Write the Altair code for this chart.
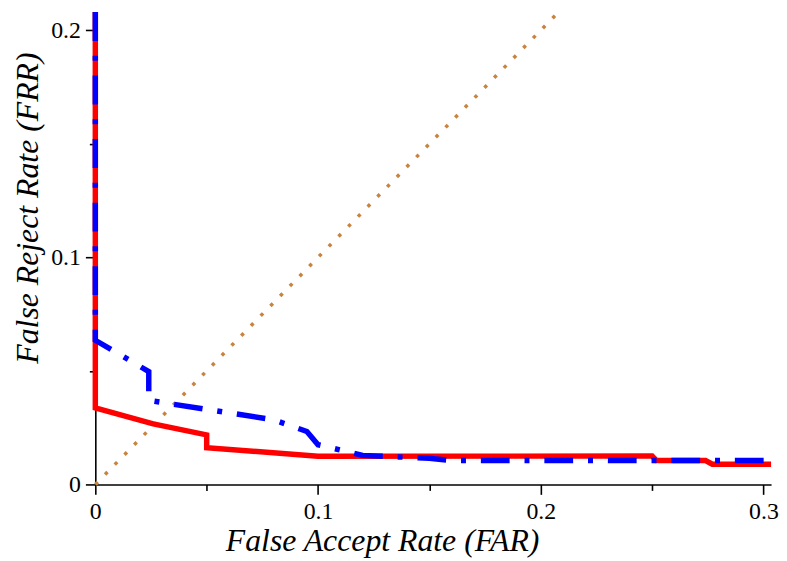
import altair as alt
import pandas as pd

# ---- data ----
red_far = [0.0, 0.0, 0.026, 0.05, 0.05, 0.1, 0.25, 0.252, 0.274, 0.277, 0.3034]
red_frr = [0.208, 0.0337, 0.0267, 0.0218, 0.0162, 0.0124, 0.0125, 0.0105, 0.0105, 0.0089, 0.0089]

blue_far = [0.0, 0.0, 0.024, 0.024, 0.08, 0.095, 0.1, 0.12, 0.15, 0.16, 0.3034]
blue_frr = [0.208, 0.0635, 0.0497, 0.037, 0.0285, 0.0233, 0.0175, 0.0128, 0.0115, 0.0105, 0.0105]

diag_far = [0.0, 0.208]
diag_frr = [0.0, 0.208]

x_major = [0, 0.1, 0.2, 0.3]
x_minor = [0.05, 0.15, 0.25]
y_major = [0, 0.1, 0.2]
y_minor = [0.05, 0.15]

X_DOMAIN = [0, 0.3034]
Y_DOMAIN = [0, 0.208]


def frame(xs, ys):
    return pd.DataFrame({"far": xs, "frr": ys, "i": list(range(len(xs)))})


FONT = "Liberation Serif"

xscale = alt.Scale(domain=X_DOMAIN, nice=False, zero=False)
yscale = alt.Scale(domain=Y_DOMAIN, nice=False, zero=False)

x_axis = alt.Axis(
    values=x_major, format="~g", orient="bottom", grid=False,
    domainColor="black", domainWidth=1.6, tickColor="black", tickWidth=1.6,
    tickSize=10, labelPadding=5, labelFont=FONT, labelFontSize=24,
    labelColor="black", labelFlush=False,
    title="False Accept Rate (FAR)", titleFont=FONT, titleFontSize=32,
    titleFontStyle="italic", titleFontWeight="normal", titleColor="black",
    titleX=289, titleY=67, titleAlign="center", titleBaseline="alphabetic",
)
y_axis = alt.Axis(
    values=y_major, format="~g", orient="left", grid=False,
    domainColor="black", domainWidth=1.6, tickColor="black", tickWidth=1.6,
    tickSize=10, labelPadding=5, labelFont=FONT, labelFontSize=24,
    labelColor="black", labelFlush=False,
    title="False Reject Rate (FRR)", titleFont=FONT, titleFontSize=32,
    titleFontStyle="italic", titleFontWeight="normal", titleColor="black",
    titleX=-58, titleY=197, titleAlign="center", titleBaseline="alphabetic",
    titleAngle=270,
)
x_minor_axis = alt.Axis(
    values=x_minor, orient="bottom", grid=False, domain=False, labels=False,
    tickColor="black", tickWidth=1.6, tickSize=6, title="",
)
y_minor_axis = alt.Axis(
    values=y_minor, orient="left", grid=False, domain=False, labels=False,
    tickColor="black", tickWidth=1.6, tickSize=6, title="",
)

diag = alt.Chart(frame(diag_far, diag_frr)).mark_line(
    color="#C8843F", strokeWidth=3.5, strokeDash=[3.5, 10.5], strokeCap="butt"
).encode(
    x=alt.X("far:Q", scale=xscale, axis=x_axis),
    y=alt.Y("frr:Q", scale=yscale, axis=y_axis),
    order="i:Q",
)

red = alt.Chart(frame(red_far, red_frr)).mark_line(
    color="#FF0000", strokeWidth=5.5, strokeJoin="miter"
).encode(
    x=alt.X("far:Q", scale=xscale, axis=x_minor_axis),
    y=alt.Y("frr:Q", scale=yscale, axis=y_minor_axis),
    order="i:Q",
)

blue = alt.Chart(frame(blue_far, blue_frr)).mark_line(
    color="#0000FF", strokeWidth=5.5, strokeDash=[29, 15, 5, 15], strokeCap="butt"
).encode(
    x=alt.X("far:Q", scale=xscale, axis=None),
    y=alt.Y("frr:Q", scale=yscale, axis=None),
    order="i:Q",
)

chart = alt.layer(diag, red, blue).resolve_axis(
    x="independent", y="independent"
).properties(
    width=681, height=476,
    autosize=alt.AutoSizeParams(type="none"),
    padding={"left": 88, "top": 2, "right": 8, "bottom": 72},
    background="white",
).configure_view(strokeWidth=0)

chart.save("out.html", embed_options={"renderer": "svg", "actions": False})
